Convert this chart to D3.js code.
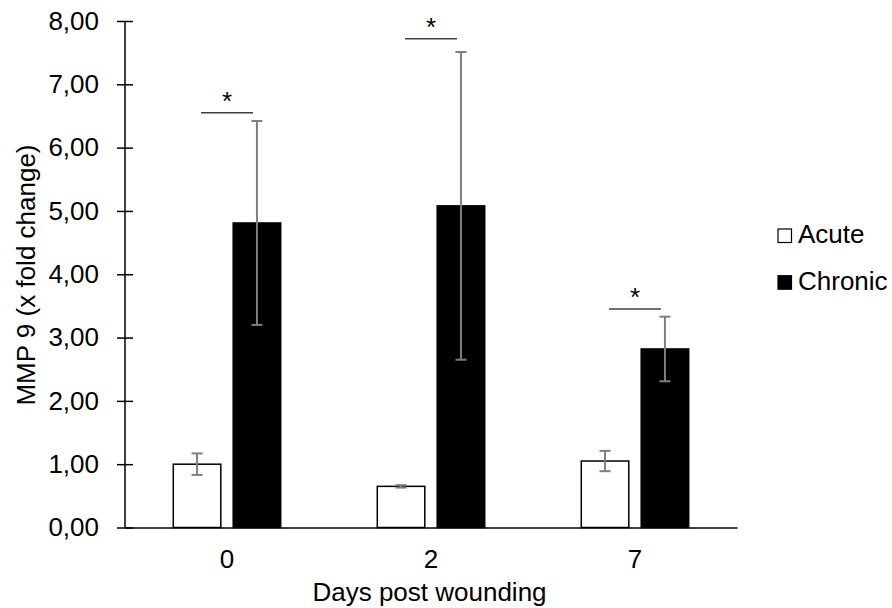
<!DOCTYPE html>
<html>
<head>
<meta charset="utf-8">
<script src="https://cdnjs.cloudflare.com/ajax/libs/d3/7.8.5/d3.min.js"></script>
<style>
  body { margin: 0; background: #fff; }
  text { font-family: Arial, "Liberation Sans", sans-serif; fill: #000; }
</style>
</head>
<body>
<div id="chart"></div>
<script>
// data
var days = ["0", "2", "7"];
var series = ["Acute", "Chronic"];
var acuteMean = [1.00, 0.65, 1.05];
var acuteErr = [0.17, 0.02, 0.16];
var chronicMean = [4.81, 5.08, 2.82];
var chronicErr = [1.61, 2.43, 0.51];
var sigLevel = [6.55, 7.72, 3.45];   // height of the "*" bracket, in y units
var yTicks = [0, 1, 2, 3, 4, 5, 6, 7, 8];

var svgWidth = 892;
var svgHeight = 608;
var margin = { top: 21, right: 155, bottom: 80.5, left: 125 };
var chartWidth = svgWidth - margin.left - margin.right;
var chartHeight = svgHeight - margin.top - margin.bottom;

var svg = d3.select("#chart")
  .append("svg")
  .attr("width", svgWidth)
  .attr("height", svgHeight);

var chartGroup = svg.append("g")
  .attr("transform", `translate(${margin.left}, ${margin.top})`);

// scales
var x = d3.scaleBand().domain(days).range([0, chartWidth]);
var xSub = d3.scaleBand().domain(series).range([0, x.bandwidth()])
  .paddingInner(0.207).paddingOuter(0.806);
var y = d3.scaleLinear().domain([0, 8]).range([chartHeight, 0]);

// rows for drawing
var rows = [];
days.forEach(function(d, i) {
  rows.push({ day: d, s: "Acute", v: acuteMean[i], e: acuteErr[i] });
  rows.push({ day: d, s: "Chronic", v: chronicMean[i], e: chronicErr[i] });
});

// bars
chartGroup.selectAll("rect.bar")
  .data(rows)
  .enter()
  .append("rect")
  .attr("class", "bar")
  .attr("x", d => x(d.day) + xSub(d.s))
  .attr("y", d => y(d.v))
  .attr("width", xSub.bandwidth())
  .attr("height", d => y(0) - y(d.v))
  .attr("fill", d => d.s === "Acute" ? "#fff" : "#000")
  .attr("stroke", "#000")
  .attr("stroke-width", 1.5);

// error bars
var capW = 5.5;
var err = chartGroup.selectAll("g.err")
  .data(rows)
  .enter()
  .append("g")
  .attr("class", "err")
  .attr("stroke", "#7f7f7f")
  .attr("stroke-width", 2);

err.append("line")
  .attr("x1", d => x(d.day) + xSub(d.s) + xSub.bandwidth() / 2)
  .attr("x2", d => x(d.day) + xSub(d.s) + xSub.bandwidth() / 2)
  .attr("y1", d => y(d.v + d.e))
  .attr("y2", d => y(d.v - d.e));
err.append("line")
  .attr("x1", d => x(d.day) + xSub(d.s) + xSub.bandwidth() / 2 - capW)
  .attr("x2", d => x(d.day) + xSub(d.s) + xSub.bandwidth() / 2 + capW)
  .attr("y1", d => y(d.v + d.e))
  .attr("y2", d => y(d.v + d.e));
err.append("line")
  .attr("x1", d => x(d.day) + xSub(d.s) + xSub.bandwidth() / 2 - capW)
  .attr("x2", d => x(d.day) + xSub(d.s) + xSub.bandwidth() / 2 + capW)
  .attr("y1", d => y(d.v - d.e))
  .attr("y2", d => y(d.v - d.e));

// significance brackets
var sig = chartGroup.selectAll("g.sig")
  .data(days)
  .enter()
  .append("g")
  .attr("class", "sig");

sig.append("line")
  .attr("x1", d => x(d) + x.bandwidth() / 2 - 26)
  .attr("x2", d => x(d) + x.bandwidth() / 2 + 26)
  .attr("y1", (d, i) => y(sigLevel[i]))
  .attr("y2", (d, i) => y(sigLevel[i]))
  .attr("stroke", "#404040")
  .attr("stroke-width", 1.5);

sig.append("text")
  .attr("x", d => x(d) + x.bandwidth() / 2)
  .attr("y", (d, i) => y(sigLevel[i]) - 3)
  .attr("text-anchor", "middle")
  .style("font-size", "26px")
  .text("*");

// y axis
var leftAxis = d3.axisLeft(y)
  .tickValues(yTicks)
  .tickSize(8)
  .tickPadding(18)
  .tickFormat(d => d.toFixed(2).replace(".", ","));

var yAxisG = chartGroup.append("g").call(leftAxis);
yAxisG.select(".domain").attr("d", `M0,${y(8)}V${y(0)}`).attr("stroke-width", 1.5);
yAxisG.selectAll(".tick line").attr("x1", -8).attr("x2", 8).attr("stroke-width", 1.5);
yAxisG.selectAll(".tick text")
  .style("font-size", "26px")
  .style("font-family", "Arial, 'Liberation Sans', sans-serif")
  .attr("fill", "#000");

// x axis
var bottomAxis = d3.axisBottom(x).tickSize(0).tickPadding(22);
var xAxisG = chartGroup.append("g")
  .attr("transform", `translate(0, ${chartHeight})`)
  .call(bottomAxis);
xAxisG.select(".domain").attr("stroke-width", 1.5);
xAxisG.selectAll(".tick text")
  .style("font-size", "26px")
  .style("font-family", "Arial, 'Liberation Sans', sans-serif")
  .attr("fill", "#000");

// axis titles
chartGroup.append("text")
  .attr("transform", "rotate(-90)")
  .attr("x", -(275 - margin.top))
  .attr("y", 35 - margin.left)
  .attr("text-anchor", "middle")
  .style("font-size", "26px")
  .text("MMP 9 (x fold change)");

chartGroup.append("text")
  .attr("x", chartWidth / 2 - 1.5)
  .attr("y", 601 - margin.top)
  .attr("text-anchor", "middle")
  .style("font-size", "26px")
  .text("Days post wounding");

// legend
var legend = svg.selectAll("g.legend")
  .data(series)
  .enter()
  .append("g")
  .attr("class", "legend")
  .attr("transform", (d, i) => `translate(778, ${229 + i * 46.7})`);

legend.append("rect")
  .attr("width", 13.5)
  .attr("height", 13.5)
  .attr("fill", d => d === "Acute" ? "#fff" : "#000")
  .attr("stroke", "#000")
  .attr("stroke-width", 1.2);

legend.append("text")
  .attr("x", 20)
  .attr("y", 14)
  .style("font-size", "26px")
  .text(d => d);
</script>
</body>
</html>
